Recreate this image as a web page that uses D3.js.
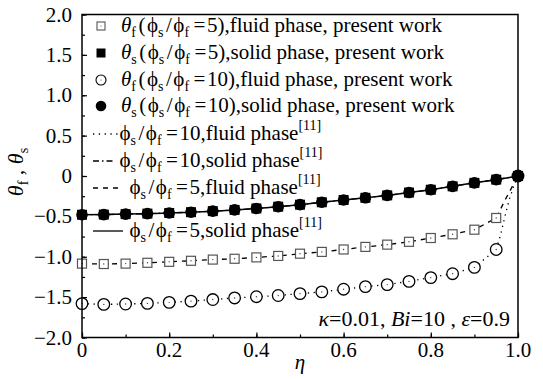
<!DOCTYPE html>
<html><head><meta charset="utf-8"><script src="https://cdn.jsdelivr.net/npm/d3@7"></script></head>
<body style="margin:0">
<svg id="s" width="543" height="379"></svg>
<script>
// Dimensionless position across the channel
const eta = [0, 0.05, 0.1, 0.15, 0.2, 0.25, 0.3, 0.35, 0.4, 0.45, 0.5,
             0.55, 0.6, 0.65, 0.7, 0.75, 0.8, 0.85, 0.9, 0.95, 1.0];

// Present work: temperatures of the fluid and solid phases
const fluid5  = [-1.085, -1.09, -1.085, -1.075, -1.063, -1.05, -1.035, -1.025, -1.008, -0.99, -0.962,
                 -0.94, -0.91, -0.878, -0.85, -0.815, -0.768, -0.722, -0.665, -0.52, 0];
const solid5  = [-0.48, -0.478, -0.472, -0.466, -0.458, -0.448, -0.435, -0.42, -0.402, -0.38, -0.355,
                 -0.325, -0.297, -0.27, -0.24, -0.205, -0.17, -0.128, -0.085, -0.045, 0];
const fluid10 = [-1.58, -1.59, -1.585, -1.578, -1.565, -1.55, -1.53, -1.51, -1.495, -1.48, -1.457,
                 -1.435, -1.402, -1.37, -1.345, -1.305, -1.258, -1.21, -1.132, -0.91, 0];
const solid10 = [-0.48, -0.478, -0.472, -0.466, -0.458, -0.448, -0.435, -0.42, -0.402, -0.38, -0.355,
                 -0.325, -0.297, -0.27, -0.24, -0.205, -0.17, -0.128, -0.085, -0.045, 0];

// Reference solution [11], resolved more finely near the wall
const refEta = [0, 0.05, 0.1, 0.15, 0.2, 0.25, 0.3, 0.35, 0.4, 0.45, 0.5,
                0.55, 0.6, 0.65, 0.7, 0.75, 0.8, 0.85, 0.9, 0.95, 0.96, 0.97, 0.98, 0.99, 1.0];
const refFluid10 = [-1.58, -1.59, -1.585, -1.578, -1.565, -1.55, -1.53, -1.51, -1.495, -1.48, -1.457,
                    -1.435, -1.402, -1.37, -1.345, -1.305, -1.258, -1.21, -1.132, -0.91, -0.73, -0.5, -0.29, -0.13, 0];
const refSolid10 = [-0.48, -0.478, -0.472, -0.466, -0.458, -0.448, -0.435, -0.42, -0.402, -0.38, -0.355,
                    -0.325, -0.297, -0.27, -0.24, -0.205, -0.17, -0.128, -0.085, -0.045, -0.036, -0.027, -0.018, -0.009, 0];
const refFluid5  = [-1.085, -1.09, -1.085, -1.075, -1.063, -1.05, -1.035, -1.025, -1.008, -0.99, -0.962,
                    -0.94, -0.91, -0.878, -0.85, -0.815, -0.768, -0.722, -0.665, -0.52, -0.41, -0.3, -0.2, -0.1, 0];
const refSolid5  = [-0.48, -0.478, -0.472, -0.466, -0.458, -0.448, -0.435, -0.42, -0.402, -0.38, -0.355,
                    -0.325, -0.297, -0.27, -0.24, -0.205, -0.17, -0.128, -0.085, -0.045, -0.036, -0.027, -0.018, -0.009, 0];

const xTicks = [0, 0.2, 0.4, 0.6, 0.8, 1.0];
const xTickLabels = ["0", "0.2", "0.4", "0.6", "0.8", "1.0"];
const yTicks = [2, 1.5, 1, 0.5, 0, -0.5, -1, -1.5, -2];
const yTickLabels = ["2.0", "1.5", "1.0", "0.5", "0", "\u22120.5", "\u22121.0", "\u22121.5", "\u22122.0"];

const FONT = '"Liberation Serif"';
const svg = d3.select("#s");
const x = d3.scaleLinear().domain([0, 1]).range([82, 518]);
const y = d3.scaleLinear().domain([-2, 2]).range([337.5, 14.5]);

// Axes with inward ticks; labels drawn separately
const xMinor = d3.range(0, 1.0001, 0.1);
const yMinor = d3.range(-2, 2.0001, 0.25);
function ticks(axis, tr) {
  svg.append("g").attr("transform", tr).call(axis)
    .call(g => g.select(".domain").remove())
    .selectAll("line").attr("stroke", "#000").attr("stroke-width", 1.2);
}
ticks(d3.axisBottom(x).tickValues(xMinor).tickSize(-3).tickFormat(""), `translate(0,${y(-2)})`);
ticks(d3.axisBottom(x).tickValues(xTicks).tickSize(-5).tickFormat(""), `translate(0,${y(-2)})`);
ticks(d3.axisLeft(y).tickValues(yMinor).tickSize(-3).tickFormat(""), `translate(${x(0)},0)`);
ticks(d3.axisLeft(y).tickValues(yTicks).tickSize(-5).tickFormat(""), `translate(${x(0)},0)`);

// Tick labels
svg.append("g").selectAll("text").data(xTicks).join("text")
  .attr("x", d => x(d)).attr("y", 357)
  .attr("text-anchor", "middle").attr("font-size", 21).style("font-family", FONT)
  .text((d, i) => xTickLabels[i]);
svg.append("g").selectAll("text").data(yTicks).join("text")
  .attr("x", 72).attr("y", d => y(d) + 7)
  .attr("text-anchor", "end").attr("font-size", 21).style("font-family", FONT)
  .text((d, i) => yTickLabels[i]);

// Axis titles
svg.append("text").attr("x", 300).attr("y", 369).style("font-family", FONT)
  .attr("text-anchor", "middle").attr("font-size", 21).attr("font-style", "italic").text("\u03b7");
const yt = svg.append("text").style("font-family", FONT)
  .attr("transform", "translate(23,172) rotate(-90)")
  .attr("text-anchor", "middle").attr("font-size", 22);
yt.append("tspan").attr("font-style", "italic").text("\u03b8");
yt.append("tspan").attr("font-size", 14).attr("dy", 5).text("f");
yt.append("tspan").attr("dy", -5).text(" , ");
yt.append("tspan").attr("font-style", "italic").text("\u03b8");
yt.append("tspan").attr("font-size", 14).attr("dy", 5).text("s");

// Reference curves [11]
const refLine = vals => d3.line().x((d, i) => x(refEta[i])).y(d => y(d))(vals);
const plot = svg.append("g");
plot.append("path").attr("d", refLine(refFluid10)).attr("fill", "none")
  .attr("stroke", "#000").attr("stroke-width", 1.3).attr("stroke-dasharray", "1.3 4.5");
plot.append("path").attr("d", refLine(refFluid5)).attr("fill", "none")
  .attr("stroke", "#000").attr("stroke-width", 1.3).attr("stroke-dasharray", "5 5");
plot.append("path").attr("d", refLine(refSolid10)).attr("fill", "none")
  .attr("stroke", "#000").attr("stroke-width", 1.3).attr("stroke-dasharray", "6 3 1.5 3");
plot.append("path").attr("d", refLine(refSolid5)).attr("fill", "none")
  .attr("stroke", "#000").attr("stroke-width", 1.5);

// Present-work markers
const pts = vals => vals.map((v, i) => ({ e: eta[i], v }));
plot.append("g").selectAll("rect").data(pts(fluid5)).join("rect")
  .attr("x", d => x(d.e) - 4.5).attr("y", d => y(d.v) - 4.5)
  .attr("width", 9).attr("height", 9)
  .attr("fill", "#fff").attr("stroke", "#555").attr("stroke-width", 1.2);
plot.append("g").selectAll("circle").data(pts(fluid10)).join("circle")
  .attr("cx", d => x(d.e)).attr("cy", d => y(d.v)).attr("r", 5.8)
  .attr("fill", "#fff").attr("stroke", "#000").attr("stroke-width", 1.3);
plot.append("g").selectAll("circle").data(pts(fluid5).concat(pts(fluid10))).join("circle")
  .attr("cx", d => x(d.e)).attr("cy", d => y(d.v)).attr("r", 0.7).attr("fill", "#444");
plot.append("g").selectAll("rect").data(pts(solid5)).join("rect")
  .attr("x", d => x(d.e) - 5).attr("y", d => y(d.v) - 5)
  .attr("width", 10).attr("height", 10).attr("fill", "#000");
plot.append("g").selectAll("circle").data(pts(solid10)).join("circle")
  .attr("cx", d => x(d.e)).attr("cy", d => y(d.v)).attr("r", 5.8).attr("fill", "#000");

// Frame
svg.append("rect").attr("x", x(0)).attr("y", y(2))
  .attr("width", x(1) - x(0)).attr("height", y(-2) - y(2))
  .attr("fill", "none").attr("stroke", "#000").attr("stroke-width", 1.5);

// Rich text helper: segments of [text, kind, dx]
function rich(sel, segs) {
  sel.style("font-family", FONT);
  segs.forEach(([t, k, dx]) => {
    const ts = sel.append("tspan").text(t);
    if (k === "i") ts.attr("font-style", "italic");
    if (k === "sub") ts.attr("font-size", 14).attr("dy", 5);
    if (k === "sup") ts.attr("font-size", 14).attr("dy", -10);
    if (k === "back") ts.attr("dy", -5);
    if (dx) ts.attr("dx", dx);
  });
}

// Legend
const leg = svg.append("g").attr("font-size", 21);
const ratioSegs = r => [["\u03d5", "", 1.5], ["s", "sub"], ["/", "back", 2.5], ["\u03d5", "", 1.5], ["f", "sub"],
                        ["=", "back", 4.5], [r, "", 1.5]];
const presentRows = [
  { y: 32, sym: "f", r: "5", ph: "fluid", mark: "osq" },
  { y: 59, sym: "s", r: "5", ph: "solid", mark: "fsq" },
  { y: 86, sym: "f", r: "10", ph: "fluid", mark: "oci" },
  { y: 112, sym: "s", r: "10", ph: "solid", mark: "fci" }
];
presentRows.forEach(row => {
  const my = row.y - 6, mx = 101;
  if (row.mark === "osq") {
    leg.append("rect").attr("x", mx - 4).attr("y", my - 4).attr("width", 8).attr("height", 8)
      .attr("fill", "#fff").attr("stroke", "#555").attr("stroke-width", 1.1);
    leg.append("circle").attr("cx", mx).attr("cy", my).attr("r", 0.6).attr("fill", "#444");
  } else if (row.mark === "fsq") {
    leg.append("rect").attr("x", mx - 4.5).attr("y", my - 4.5).attr("width", 9).attr("height", 9).attr("fill", "#000");
  } else if (row.mark === "oci") {
    leg.append("circle").attr("cx", mx).attr("cy", my).attr("r", 5).attr("fill", "#fff")
      .attr("stroke", "#000").attr("stroke-width", 1.1);
    leg.append("circle").attr("cx", mx).attr("cy", my).attr("r", 0.6).attr("fill", "#444");
  } else {
    leg.append("circle").attr("cx", mx).attr("cy", my).attr("r", 5.3).attr("fill", "#000");
  }
  const t = leg.append("text").attr("x", 121).attr("y", row.y);
  rich(t, [["\u03b8", "i"], [row.sym, "sub"], ["(", "back", 2.5]].concat(ratioSegs(row.r))
    .concat([[")," + row.ph + " phase, present work", ""]]));
});

const refRows = [
  { y: 140, r: "10", ph: "fluid", dash: "1.3 4.5", x1: 93, x2: 118, tx: 118 },
  { y: 167, r: "10", ph: "solid", dash: "6 3 1.5 3", x1: 93, x2: 115, tx: 118 },
  { y: 194, r: "5", ph: "fluid", dash: "5 5", x1: 93, x2: 123, tx: 128 },
  { y: 237, r: "5", ph: "solid", dash: null, x1: 93, x2: 123, tx: 128 }
];
refRows.forEach(row => {
  const ln = leg.append("line").attr("x1", row.x1).attr("x2", row.x2)
    .attr("y1", row.y - 6).attr("y2", row.y - 6)
    .attr("stroke", "#000").attr("stroke-width", 1.3);
  if (row.dash) ln.attr("stroke-dasharray", row.dash);
  const t = leg.append("text").attr("x", row.tx).attr("y", row.y);
  rich(t, ratioSegs(row.r).concat([["," + row.ph + " phase", ""], ["[11]", "sup"]]));
});

// Parameter note
const note = svg.append("text").attr("x", 510).attr("y", 326)
  .attr("text-anchor", "end").attr("font-size", 22);
rich(note, [["\u03ba", "i"], ["=0.01, ", ""], ["Bi", "i"], ["=10 , ", ""], ["\u03b5", "i"], ["=0.9", ""]]);
</script>
</body>
</html>
